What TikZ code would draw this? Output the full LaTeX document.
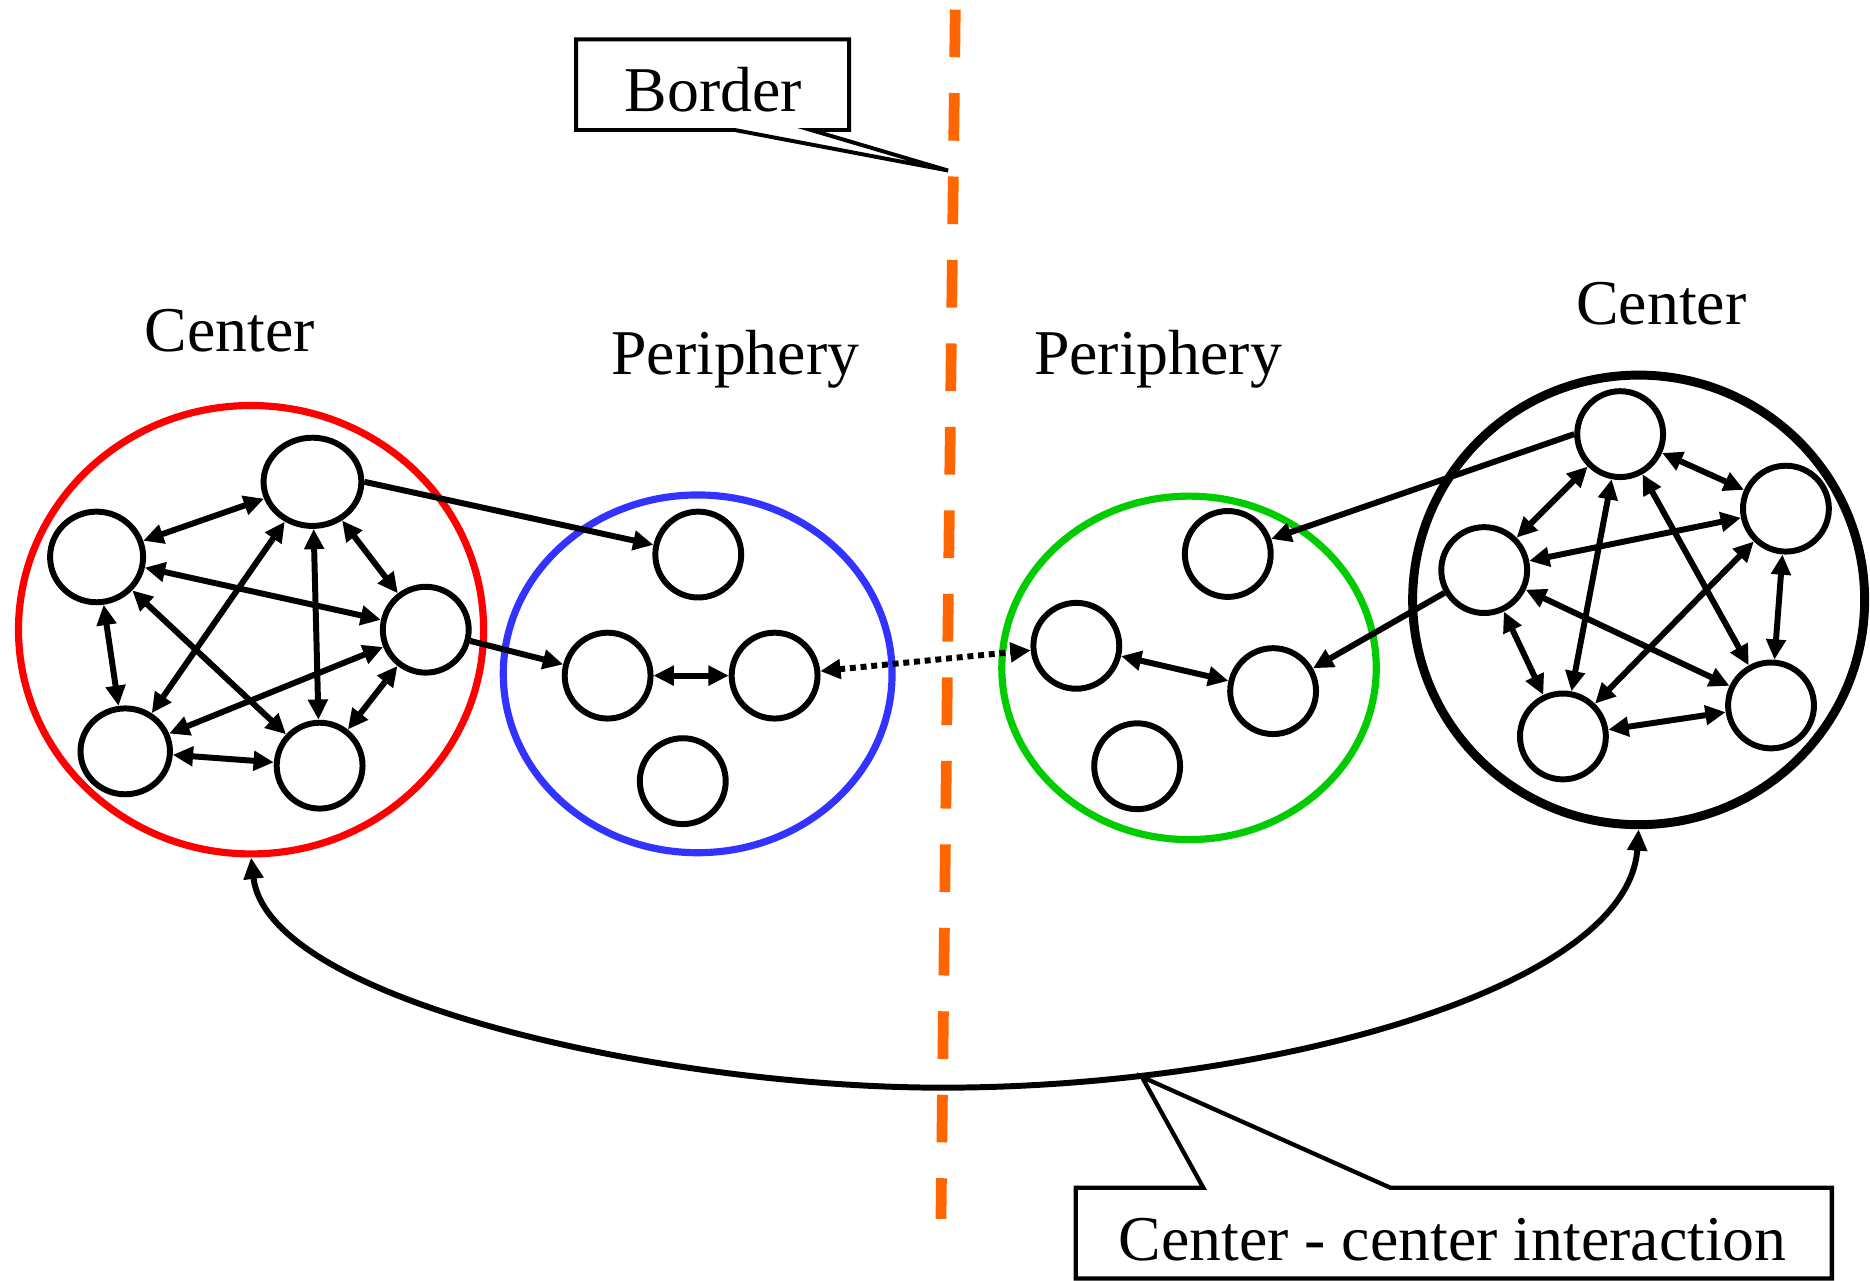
\documentclass[tikz,border=0pt]{standalone}
\usepackage{fontspec}
\setmainfont{Liberation Serif}
\usetikzlibrary{arrows.meta,shapes.geometric}
\definecolor{myred}{RGB}{255,0,0}
\definecolor{myblue}{RGB}{51,51,255}
\definecolor{mygreen}{RGB}{0,204,0}
\definecolor{myorange}{RGB}{255,102,0}
\begin{document}
\begin{tikzpicture}[x=1pt,y=-1pt,
  nd/.style={ellipse,draw,line width=5pt,inner sep=0pt,minimum width=72pt,minimum height=72pt},
  grp/.style={ellipse,draw,line width=6pt,inner sep=0pt},
  lbl/.style={font=\fontsize{53.5}{60}\selectfont,inner sep=0pt,anchor=base},
  ed/.style={line width=5pt,{Triangle[length=17pt,width=16pt]}-{Triangle[length=17pt,width=16pt]}},
  oneway/.style={line width=5pt,-{Triangle[length=17pt,width=16pt]}},
  callout/.style={line width=3.3pt,line join=miter},
]
\useasboundingbox (0,0) rectangle (1568,1074);

% group outlines
\node[grp,draw=myred,minimum width=390pt,minimum height=376pt] (red) at (210.5,528) {};
\node[grp,draw=myblue,minimum width=326pt,minimum height=300pt] (blue) at (585,565) {};
\node[grp,draw=mygreen,minimum width=314pt,minimum height=288pt] (green) at (997,560) {};
\node[grp,draw=black,line width=7.5pt,minimum width=379pt,minimum height=377pt] (blk) at (1374,503) {};

% labels
\node[lbl] (lc) at (192.5,295) {Center};
\node[lbl] (lp) at (616.5,314) {Periphery};
\node[lbl] (rp) at (971,314) {Periphery};
\node[lbl] (rc) at (1393,272) {Center};

% left center nodes
\node[nd,minimum width=82pt,minimum height=74pt] (A) at (262,404) {};
\node[nd,minimum width=78pt,minimum height=76pt] (B) at (81,467) {};
\node[nd] (C) at (357,528) {};
\node[nd,minimum width=75pt] (D) at (105,630) {};
\node[nd] (E) at (268,642) {};

% blue periphery nodes
\node[nd] (P1) at (585.5,465) {};
\node[nd] (P2) at (509.5,566.5) {};
\node[nd] (P3) at (649.5,566.5) {};
\node[nd] (P4) at (572.5,655) {};

% green periphery nodes
\node[nd] (G1) at (1029.5,464.5) {};
\node[nd] (G2) at (902.5,541.5) {};
\node[nd] (G3) at (1067.5,579.5) {};
\node[nd] (G4) at (953.5,642.5) {};

% right center nodes
\node[nd] (R1) at (1358.5,364) {};
\node[nd] (R2) at (1497.5,426.5) {};
\node[nd] (R3) at (1244.5,478) {};
\node[nd] (R4) at (1485,591.5) {};
\node[nd] (R5) at (1310.5,617.5) {};

% left center edges
\draw[ed] (A) -- (B);
\draw[ed] (A) -- (C);
\draw[ed] (A) -- (D);
\draw[ed] (A) -- (E);
\draw[ed] (B) -- (C);
\draw[ed] (B) -- (D);
\draw[ed] (B) -- (E);
\draw[ed] (C) -- (D);
\draw[ed] (C) -- (E);
\draw[ed] (D) -- (E);

% right center edges
\draw[ed] (R1) -- (R2);
\draw[ed] (R1) -- (R3);
\draw[ed] (R1) -- (R4);
\draw[ed] (R1) -- (R5);
\draw[ed] (R2) -- (R3);
\draw[ed] (R2) -- (R4);
\draw[ed] (R2) -- (R5);
\draw[ed] (R3) -- (R4);
\draw[ed] (R3) -- (R5);
\draw[ed] (R4) -- (R5);

% periphery edges
\draw[ed] (P2) -- (P3);
\draw[ed] (G2) -- (G3);
\draw[oneway] (A.east) -- (P1);
\draw[oneway] (C) -- (P2);
\draw[oneway] (R1.west) -- (G1);
\draw[oneway] (R3) -- (G3);
\draw[ed,dash pattern=on 5pt off 4pt] (P3) -- (G2);

% border line
\coordinate (btop) at (801,8);
\coordinate (bbot) at (789,1022);
\draw[myorange,line width=9pt,dash pattern=on 40pt off 30pt] (btop) -- (bbot);

% center-center interaction curve
\coordinate (cmid) at (790,912);
\draw[line width=5pt,{Triangle[length=18pt,width=16pt]}-{Triangle[length=18pt,width=16pt]}]
  (red.south) .. controls (225,840) and (560,912) .. (cmid)
  .. controls (1060,912) and (1365,830) .. (blk.south);

% Border callout
\coordinate (btip) at (795,143);
\draw[callout] (616,109) -- (483,109) -- (483,33) -- (712,33) -- (712,109) -- (680,109) -- (btip) -- cycle;
\node[lbl] (bordertxt) at (598,93.5) {Border};

% Center-center callout
\coordinate (ctip) at (957.5,903);
\draw[callout,line width=3.6pt] (1009,996) -- (902,996) -- (902,1072) -- (1536,1072) -- (1536,996) -- (1166,996) -- (ctip) -- cycle;
\node[lbl] (cctxt) at (1218,1057) {Center - center interaction};
\end{tikzpicture}
\end{document}
